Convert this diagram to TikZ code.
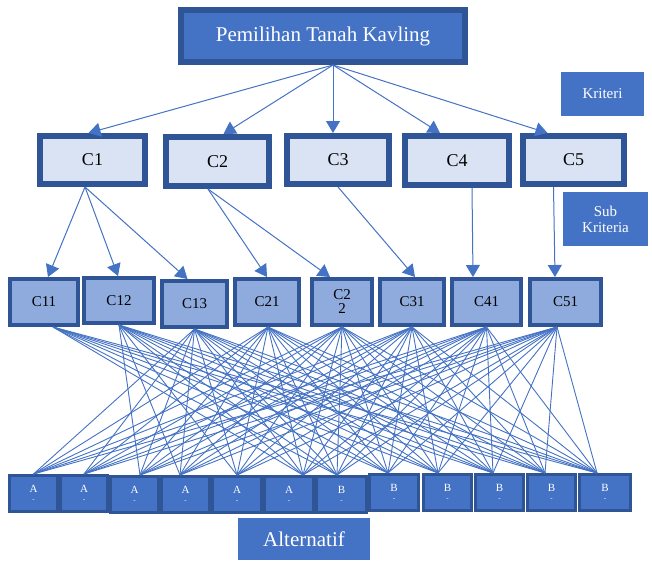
\documentclass[tikz,border=0pt]{standalone}
\usepackage{fontspec}
\setmainfont{Liberation Serif}
\usetikzlibrary{arrows.meta}
\definecolor{dk}{HTML}{2F5597}
\definecolor{md}{HTML}{4472C4}
\definecolor{lt}{HTML}{DAE3F3}
\definecolor{sb}{HTML}{8FAADC}
\newcommand\bx[8]{%
 \pgfmathsetmacro\bcx{(#3+#4)/2}%
 \pgfmathsetmacro\bcy{(#5+#6)/2}%
 \pgfmathsetmacro\bw{#4-#3-#7}%
 \pgfmathsetmacro\bh{#6-#5-#7}%
 \node[#1,minimum width=\bw pt,minimum height=\bh pt] (#2) at (\bcx,\bcy) {#8};}
\begin{document}
\begin{tikzpicture}[x=1pt,y=-1pt,
  topbox/.style={draw=dk,fill=md,line width=6pt,inner sep=0pt,text=white,font=\fontsize{21}{23}\selectfont},
  crit/.style={draw=dk,fill=lt,line width=6pt,inner sep=0pt,font=\fontsize{18}{20}\selectfont},
  sub/.style={draw=dk,fill=sb,line width=4pt,inner sep=0pt,align=center,font=\fontsize{15}{16}\selectfont},
  alt/.style={draw=dk,fill=md,line width=3pt,inner sep=0pt,text=white,align=center},
  lab/.style={fill=md,inner sep=0pt,text=white,align=center},
  arr/.style={draw=md,line width=1pt,-{Triangle[width=14pt,length=12pt]}},
  ln/.style={draw=md,line width=0.9pt}]
\useasboundingbox (0,0) rectangle (652,560);
% top
\bx{topbox}{top}{178}{468}{7}{65}{6}{Pemilihan Tanah Kavling}
\bx{lab,font=\fontsize{15}{17}\selectfont}{kri}{561}{644}{72}{116}{0}{Kriteri}
\bx{lab,font=\fontsize{15}{16}\selectfont}{subk}{563}{648}{192}{246}{0}{Sub\\Kriteria}
\bx{lab,font=\fontsize{21}{22}\selectfont}{altl}{238}{370}{518}{560}{0}{Alternatif}
% criteria
\bx{crit}{c1}{37}{148}{133}{187}{6}{C1}
\bx{crit}{c2}{163}{272}{134}{189}{6}{C2}
\bx{crit}{c3}{284}{392}{133}{187}{6}{C3}
\bx{crit}{c4}{402}{512}{133}{188}{6}{C4}
\bx{crit}{c5}{520}{627}{133}{187}{6}{C5}
% sub criteria
\bx{sub}{c11}{8}{80}{277}{327}{4}{C11}
\bx{sub}{c12}{82}{156}{276}{325}{4}{C12}
\bx{sub}{c13}{160}{229}{279}{329}{4}{C13}
\bx{sub}{c21}{233}{301}{277}{327}{4}{C21}
\bx{sub}{c22}{310}{374}{277}{327}{4}{C2\\[-2pt]2}
\bx{sub}{c31}{378}{446}{277}{327}{4}{C31}
\bx{sub}{c41}{450}{523}{277}{327}{4}{C41}
\bx{sub}{c51}{528}{603}{277}{327}{4}{C51}
% alternatives
\def\altt#1{{\fontsize{11}{11}\selectfont #1}\\[-3pt]{\fontsize{7}{7}\selectfont -}}
\bx{alt}{a1}{8}{59}{474}{513}{3}{\altt{A}}
\bx{alt}{a2}{59}{109}{474}{513}{3}{\altt{A}}
\bx{alt}{a3}{109}{160}{475}{514}{3}{\altt{A}}
\bx{alt}{a4}{160}{211}{475}{514}{3}{\altt{A}}
\bx{alt}{a5}{211}{263}{475}{514}{3}{\altt{A}}
\bx{alt}{a6}{263}{315}{475}{514}{3}{\altt{A}}
\bx{alt}{b1}{315}{368}{475}{514}{3}{\altt{B}}
\bx{alt}{b2}{368}{420}{473}{512}{3}{\altt{B}}
\bx{alt}{b3}{422}{473}{473}{512}{3}{\altt{B}}
\bx{alt}{b4}{474}{525}{473}{512}{3}{\altt{B}}
\bx{alt}{b5}{526}{577}{473}{512}{3}{\altt{B}}
\bx{alt}{b6}{578}{632}{473}{512}{3}{\altt{B}}
% arrows top -> criteria
\coordinate (o) at ([xshift=10pt]top.south);
\draw[arr] (o) -- ([xshift=-4pt]c1.north);
\draw[arr] (o) -- ([xshift=6pt]c2.north);
\draw[arr] (o) -- ([xshift=-5pt]c3.north);
\draw[arr] (o) -- ([xshift=-17pt]c4.north);
\draw[arr] (o) -- ([xshift=-26pt]c5.north);
% arrows criteria -> sub
\draw[arr] ([xshift=-7.5pt]c1.south) -- ([xshift=4pt]c11.north);
\draw[arr] ([xshift=-7.5pt]c1.south) -- ([xshift=-1pt]c12.north);
\draw[arr] ([xshift=-7.5pt]c1.south) -- ([xshift=-7pt]c13.north);
\draw[arr] ([xshift=-9.5pt]c2.south) -- (c21.north);
\draw[arr] ([xshift=-9.5pt]c2.south) -- ([xshift=-12pt]c22.north);
\draw[arr] (c3.south) -- ([xshift=3pt]c31.north);
\draw[arr] ([xshift=15pt]c4.south) -- ([xshift=-13.5pt]c41.north);
\draw[arr] ([xshift=-20pt]c5.south) -- ([xshift=-10.5pt]c51.north);
% endpoints
\coordinate (s1) at ([xshift=9pt]c11.south);
\coordinate (s2) at (c12.south);
\coordinate (s3) at (c13.south);
\coordinate (s4) at ([xshift=1pt]c21.south);
\coordinate (s5) at (c22.south);
\coordinate (s6) at (c31.south);
\coordinate (s7) at (c41.south);
\coordinate (s8) at ([xshift=-8.5pt]c51.south);
\coordinate (t1) at (a1.north);
\coordinate (t2) at (a2.north);
\coordinate (t3) at ([xshift=5.5pt]a3.north);
\coordinate (t4) at ([xshift=-5.5pt]a4.north);
\coordinate (t5) at (a5.north);
\coordinate (t6) at ([xshift=14pt]a6.north);
\coordinate (t7) at ([xshift=-4.5pt]b1.north);
\coordinate (t8) at ([xshift=-6pt]b2.north);
\coordinate (t9) at ([xshift=-9.5pt]b3.north);
\coordinate (t10) at ([xshift=-6.5pt]b4.north);
\coordinate (t11) at ([xshift=-6.5pt]b5.north);
\coordinate (t12) at ([xshift=-8pt]b6.north);
\foreach \j in {6,...,12} \draw[ln] (s1) -- (t\j);
\foreach \j in {3,...,12} \draw[ln] (s2) -- (t\j);
\foreach \i in {3,...,8} \foreach \j in {1,...,12} \draw[ln] (s\i) -- (t\j);
\end{tikzpicture}
\end{document}
